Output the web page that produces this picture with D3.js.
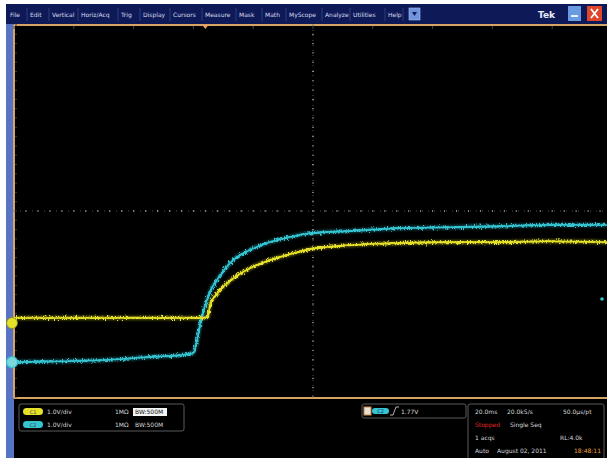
<!DOCTYPE html>
<html><head><meta charset="utf-8">
<script src="https://cdn.jsdelivr.net/npm/d3@7"></script>
<style>
html,body{margin:0;padding:0;background:#fff;}
svg{display:block;font-family:"DejaVu Sans",Arial,sans-serif;}
</style></head>
<body><svg id="c" width="607" height="458"></svg>
<script>
// ---- data (time in ms from left of record, volts from channel ground) ----
const menuItems = ["File","Edit","Vertical","Horiz/Acq","Trig","Display","Cursors","Measure","Mask","Math","MyScope","Analyze","Utilities","Help"];
const ch1Time = [0, 28.8, 62.2, 64.9, 65.5, 67.2, 70.6, 73.9, 78.9, 84.6, 92.3, 99.0, 109.0, 119.1, 129.1, 145.8, 162.5, 179.3, 198.3];
const ch1Volt = [0.11, 0.11, 0.11, 0.13, 0.39, 0.58, 0.82, 0.99, 1.18, 1.33, 1.48, 1.59, 1.66, 1.70, 1.72, 1.74, 1.74, 1.76, 1.74];
const ch2Time = [0, 15.4, 28.8, 45.5, 55.5, 59.9, 61.2, 62.5, 63.9, 65.5, 68.9, 73.2, 78.9, 84.6, 92.3, 99.0, 112.4, 129.1, 145.8, 162.5, 179.3, 198.3];
const ch2Volt = [0.0, 0.02, 0.04, 0.11, 0.15, 0.19, 0.47, 0.90, 1.22, 1.50, 1.86, 2.19, 2.41, 2.56, 2.69, 2.77, 2.82, 2.88, 2.90, 2.92, 2.95, 2.95];
const ch1Info = ["C1","1.0V/div","1MΩ","BW:500M"];
const ch2Info = ["C2","1.0V/div","1MΩ","BW:500M"];
const trigInfo = ["C2","1.77V"];
const horizInfo = [["20.0ms","20.0kS/s","50.0µs/pt"],["Stopped","Single Seq",""],["1 acqs","","RL:4.0k"],["Auto","August 02, 2011","18:48:11"]];

const svg = d3.select("#c");
const W = 607, H = 458;
const gL = 14, gT = 25, gR = 612, gB = 397;
const x = d3.scaleLinear().domain([0,200]).range([gL,gR]);
const yV = d3.scaleLinear().domain([-4,4]).range([gB,gT]); // 8 divisions
const ch1Off = -2.41, ch2Off = -3.25; // ground positions in divisions
const y1 = v => yV(v + ch1Off), y2 = v => yV(v + ch2Off);

svg.append("rect").attr("width",W).attr("height",H).attr("fill","#fff");
svg.append("rect").attr("x",6).attr("y",4).attr("width",W-6).attr("height",H-4).attr("fill","#000");
// menu bar
svg.append("rect").attr("x",6).attr("y",4).attr("width",W-6).attr("height",20).attr("fill","#0e1a58");
// left blue strip
svg.append("rect").attr("x",6).attr("y",24).attr("width",8).attr("height",H-24).attr("fill","#5773c4");

const defs = svg.append("defs");
const f = defs.append("filter").attr("id","noise").attr("x","-5%").attr("y","-30%").attr("width","110%").attr("height","160%");
f.append("feTurbulence").attr("type","fractalNoise").attr("baseFrequency","0.9 0.35").attr("numOctaves",2).attr("seed",3).attr("result","t");
f.append("feDisplacementMap").attr("in","SourceGraphic").attr("in2","t").attr("scale",7).attr("xChannelSelector","R").attr("yChannelSelector","G");
const g2 = defs.append("filter").attr("id","glow");
g2.append("feGaussianBlur").attr("stdDeviation",1.2);

// menu items
const menuX = [10,30,52,81,121,143,173,205,239,265,289,325,353,388];
const mg = svg.append("g");
menuItems.forEach((m,i)=>{
  mg.append("text").attr("x",menuX[i]).attr("y",17).attr("font-size",6).attr("fill","#d8dcec").text(m);
  const nx = i < menuItems.length-1 ? menuX[i+1] : 406;
  mg.append("line").attr("x1",nx-3).attr("x2",nx-3).attr("y1",8).attr("y2",21).attr("stroke","#3a4680").attr("stroke-width",0.8);
});
mg.append("rect").attr("x",409).attr("y",8).attr("width",11).attr("height",12).attr("fill","#6f93dc").attr("stroke","#a8c0f0").attr("stroke-width",0.6);
mg.append("path").attr("d","M412,12 L417,12 L414.5,16 Z").attr("fill","#0e1a58");
mg.append("text").attr("x",538).attr("y",18).attr("font-size",9).attr("font-weight","bold").attr("fill","#e8ecf8").text("Tek");
mg.append("rect").attr("x",568).attr("y",6).attr("width",13).attr("height",15).attr("fill","#6a9ae0");
mg.append("rect").attr("x",571).attr("y",15).attr("width",7).attr("height",2).attr("fill","#e8f0ff");
mg.append("rect").attr("x",587).attr("y",6).attr("width",15).attr("height",15).attr("fill","#e0452c");
mg.append("path").attr("d","M591,9 L598,18 M598,9 L591,18").attr("stroke","#fff").attr("stroke-width",1.8);

// graticule frame
svg.append("line").attr("x1",gL).attr("x2",W).attr("y1",gT).attr("y2",gT).attr("stroke","#d8a466").attr("stroke-width",2);
svg.append("line").attr("x1",gL).attr("x2",W).attr("y1",gB+1).attr("y2",gB+1).attr("stroke","#d8a466").attr("stroke-width",2);
svg.append("line").attr("x1",gL).attr("x2",gL).attr("y1",gT).attr("y2",gB+1).attr("stroke","#d8a466").attr("stroke-width",2);

// center cross dotted lines
const gg = svg.append("g");
const cx = x(100), cy = yV(0);
const hMinor = d3.range(0,200.01,4);
const vMinor = d3.range(-4,4.01,0.2);
gg.selectAll(".hd").data(hMinor).join("line").attr("x1",d=>x(d)).attr("x2",d=>x(d))
  .attr("y1",cy-1).attr("y2",cy+1).attr("stroke","#8a8a8a").attr("stroke-width",1);
gg.selectAll(".vd").data(vMinor).join("line").attr("x1",cx-1).attr("x2",cx+1)
  .attr("y1",d=>yV(d)).attr("y2",d=>yV(d)).attr("stroke","#8a8a8a").attr("stroke-width",1);
gg.append("line").attr("x1",gL).attr("x2",W).attr("y1",cy).attr("y2",cy).attr("stroke","#666").attr("stroke-width",0.8).attr("stroke-dasharray","1,5");
gg.append("line").attr("x1",cx).attr("x2",cx).attr("y1",gT).attr("y2",gB).attr("stroke","#666").attr("stroke-width",0.8).attr("stroke-dasharray","1,4");
// edge ticks
gg.selectAll(".tt").data(d3.range(0,200.01,20)).join("line").attr("x1",d=>x(d)).attr("x2",d=>x(d))
  .attr("y1",gT+1).attr("y2",gT+4).attr("stroke","#444");
gg.selectAll(".lt").data(vMinor).join("line").attr("x1",gL+1).attr("x2",gL+3)
  .attr("y1",d=>yV(d)).attr("y2",d=>yV(d)).attr("stroke","#3a3a3a");

// trigger position marker
svg.append("path").attr("d",`M${x(64)-3},${gT} L${x(64)+3},${gT} L${x(64)},${gT+4} Z`).attr("fill","#f0a060");

// traces
const line1 = d3.line().x((d,i)=>x(ch1Time[i])).y(d=>y1(d)).curve(d3.curveMonotoneX);
const line2 = d3.line().x((d,i)=>x(ch2Time[i])).y(d=>y2(d)).curve(d3.curveMonotoneX);
const yel = "#e6e22a", cyan = "#34c4d2";
[[line2,ch2Volt,cyan],[line1,ch1Volt,yel]].forEach(([ln,dv,col])=>{
  svg.append("path").attr("d",ln(dv)).attr("fill","none").attr("stroke",col).attr("stroke-width",4.5).attr("opacity",0.35).attr("filter","url(#glow)");
  svg.append("path").attr("d",ln(dv)).attr("fill","none").attr("stroke",col).attr("stroke-width",2.2).attr("filter","url(#noise)");
  svg.append("path").attr("d",ln(dv)).attr("fill","none").attr("stroke",col).attr("stroke-width",1.6);
});

// ground markers
svg.append("circle").attr("cx",12).attr("cy",y1(0)).attr("r",5.5).attr("fill",yel).attr("stroke","#8a8410").attr("stroke-width",0.8);
svg.append("circle").attr("cx",12).attr("cy",y2(0)).attr("r",5.5).attr("fill","#7cd6dc").attr("stroke",cyan).attr("stroke-width",1.2);
// trigger level marker
svg.append("circle").attr("cx",602).attr("cy",299).attr("r",1.8).attr("fill",cyan);

// bottom readouts
const b = svg.append("g").attr("font-size",6).attr("fill","#d8d8d8");
b.append("rect").attr("x",19).attr("y",404).attr("width",165).attr("height",27).attr("rx",2).attr("fill","none").attr("stroke","#5a5a5a");
[[ch1Info,413,yel],[ch2Info,426,cyan]].forEach(([info,yy,col])=>{
  b.append("rect").attr("x",23).attr("y",yy-5).attr("width",20).attr("height",7).attr("rx",3.5).attr("fill",col);
  b.append("text").attr("x",33).attr("y",yy+0.5).attr("text-anchor","middle").attr("font-size",5).attr("fill","#444").text(info[0]);
  b.append("text").attr("x",47).attr("y",yy+1).text(info[1]);
  b.append("text").attr("x",115).attr("y",yy+1).text(info[2]);
  if(col===yel){
    b.append("rect").attr("x",133).attr("y",yy-5).attr("width",34).attr("height",8).attr("fill","#f4f4f4");
    b.append("text").attr("x",135).attr("y",yy+1).attr("fill","#111").text(info[3]);
  } else b.append("text").attr("x",135).attr("y",yy+1).text(info[3]);
});
b.append("rect").attr("x",362).attr("y",404).attr("width",104).attr("height",14).attr("rx",2).attr("fill","none").attr("stroke","#5a5a5a");
b.append("rect").attr("x",364).attr("y",407).attr("width",7).attr("height",8).attr("fill","#e8e0d0").attr("stroke","#c88a50");
b.append("rect").attr("x",372).attr("y",408).attr("width",17).attr("height",6).attr("rx",3).attr("fill",cyan);
b.append("text").attr("x",380.5).attr("y",413).attr("text-anchor","middle").attr("font-size",5).attr("fill","#235").text(trigInfo[0]);
b.append("path").attr("d","M390,415 L393,415 L396,407 L399,407").attr("stroke","#ddd").attr("fill","none").attr("stroke-width",0.8);
b.append("text").attr("x",401).attr("y",414).text(trigInfo[1]);
b.append("rect").attr("x",468).attr("y",404).attr("width",136).attr("height",60).attr("rx",2).attr("fill","none").attr("stroke","#5a5a5a");
const hx = [475,507,563];
const hy = [414,427,440,453];
horizInfo.forEach((row,r)=>{
  row.forEach((t,c)=>{
    if(!t) return;
    let xx = hx[c];
    if(r===1 && c===1) xx = 510;
    if(r===2 && c===2) xx = 560;
    if(r===3 && c===1) xx = 497;
    if(r===3 && c===2) xx = 574;
    let col = "#d8d8d8";
    if(r===1 && c===0) col = "#e02828";
    if(r===3 && c===2) col = "#f0a040";
    b.append("text").attr("x",xx).attr("y",hy[r]).attr("fill",col).text(t);
  });
});
</script></body></html>
